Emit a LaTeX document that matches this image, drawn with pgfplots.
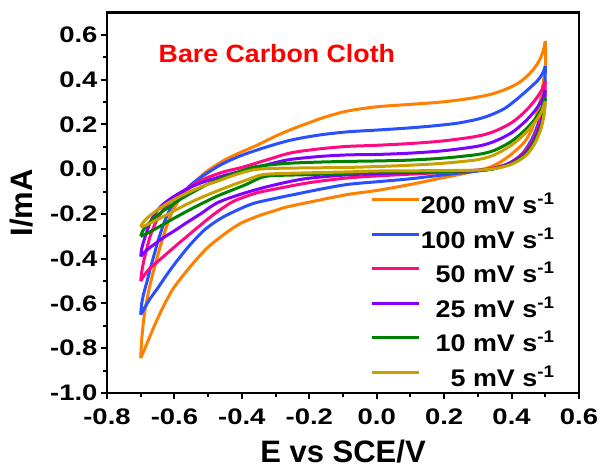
\documentclass[border=0pt]{standalone}
\usepackage{fontspec}
\setmainfont{Liberation Sans}
\newfontfamily\tickfont[FakeStretch=1.22]{Liberation Sans}
\newfontfamily\legfont[FakeStretch=1.12]{Liberation Sans}
\newfontfamily\titlefont[FakeStretch=1.07]{Liberation Sans}
\usepackage{pgfplots}
\pgfplotsset{compat=1.18}
\definecolor{cvorange}{HTML}{FF8000}
\definecolor{cvblue}{HTML}{2850FF}
\definecolor{cvpink}{HTML}{FF0A82}
\definecolor{cvpurple}{HTML}{8000FF}
\definecolor{cvgreen}{HTML}{008000}
\definecolor{cvgold}{HTML}{C8A000}

\begin{document}
\begin{tikzpicture}
\begin{axis}[
  name=ax,
  scale only axis, width=472pt, height=380.4pt,
  xmin=-0.8, xmax=0.6, ymin=-1.0, ymax=0.7,
  xtick={-0.8,-0.6,-0.4,-0.2,0,0.2,0.4,0.6},
  ytick={-1.0,-0.8,-0.6,-0.4,-0.2,0,0.2,0.4,0.6},
  minor x tick num=1, minor y tick num=1,
  xtick pos=left, ytick pos=left, tick align=outside,
  major tick length=6pt, minor tick length=3.5pt,
  every tick/.style={black, line width=2pt},
  axis line style={black, line width=2.8pt},
  /pgf/number format/.cd, fixed, fixed zerofill, precision=1, assume math mode=true,
  /pgfplots/.cd,
  ticklabel style={font=\tickfont\bfseries\fontsize{22.5}{26}\selectfont},
  xticklabel style={yshift=-6pt},
  xlabel={E vs SCE/V}, ylabel={I/mA},
  label style={font=\bfseries\fontsize{31}{36}\selectfont},
  xlabel style={at={(axis description cs:0.5,0)}, anchor=base, yshift=-69pt},
  ylabel style={at={(axis description cs:0,0.50)}, anchor=base, yshift=74pt},
  legend style={draw=none, fill=none, at={(rel axis cs:0.955,0.522)}, anchor=north east,
    font=\legfont\bfseries\fontsize{24}{28}\selectfont, row sep=12.5pt,
    nodes={inner sep=0pt, text height=17pt, text depth=5pt}},
  legend cell align=right,
  legend image code/.code={\draw[#1, line width=3.2pt] (0pt,8pt) -- (47pt,8pt);},
  every axis plot/.append style={line width=3pt, line join=round, smooth},
]
% 200 mV/s
\addplot[cvorange] coordinates {
(-0.700,-0.844) (-0.697,-0.76) (-0.690,-0.66) (-0.680,-0.57) (-0.668,-0.49) (-0.655,-0.415)
(-0.640,-0.335) (-0.622,-0.25) (-0.605,-0.185) (-0.585,-0.135) (-0.565,-0.10) (-0.54,-0.06)
(-0.513,-0.02) (-0.48,0.015) (-0.443,0.048) (-0.40,0.078) (-0.354,0.108) (-0.30,0.148)
(-0.245,0.183) (-0.20,0.208) (-0.156,0.232) (-0.087,0.260) (0.0,0.279) (0.10,0.290)
(0.19,0.300) (0.27,0.315) (0.339,0.335) (0.39,0.362) (0.428,0.393) (0.46,0.438)
(0.480,0.480) (0.493,0.525) (0.500,0.573)};
\addlegendentry{200 mV s\textsuperscript{-1}}
\addplot[cvorange, forget plot] coordinates {
(0.500,0.573) (0.501,0.47) (0.494,0.39) (0.487,0.32) (0.475,0.25) (0.462,0.185) (0.44,0.125)
(0.408,0.078) (0.37,0.035) (0.329,0.006) (0.25,-0.022) (0.19,-0.040) (0.10,-0.068)
(0.0,-0.095) (-0.087,-0.113) (-0.17,-0.138) (-0.265,-0.168) (-0.304,-0.186) (-0.35,-0.208)
(-0.404,-0.242) (-0.45,-0.288) (-0.503,-0.352) (-0.55,-0.430) (-0.602,-0.530) (-0.635,-0.620)
(-0.661,-0.705) (-0.683,-0.785) (-0.700,-0.844)};
% 100 mV/s
\addplot[cvblue] coordinates {
(-0.700,-0.650) (-0.697,-0.60) (-0.691,-0.555) (-0.681,-0.50) (-0.671,-0.44) (-0.658,-0.37)
(-0.646,-0.307) (-0.632,-0.245) (-0.617,-0.190) (-0.600,-0.148) (-0.582,-0.115) (-0.55,-0.068)
(-0.513,-0.027) (-0.46,0.022) (-0.404,0.060) (-0.33,0.098) (-0.255,0.130) (-0.17,0.153)
(-0.087,0.167) (0.0,0.175) (0.091,0.184) (0.17,0.194) (0.24,0.206) (0.30,0.224)
(0.339,0.243) (0.38,0.272) (0.418,0.316) (0.45,0.358) (0.477,0.396) (0.492,0.428) (0.500,0.461)};
\addlegendentry{100 mV s\textsuperscript{-1}}
\addplot[cvblue, forget plot] coordinates {
(0.500,0.461) (0.499,0.38) (0.493,0.30) (0.482,0.22) (0.462,0.14) (0.432,0.07) (0.392,0.025)
(0.345,0.002) (0.30,-0.008) (0.24,-0.018) (0.16,-0.032) (0.091,-0.044) (0.0,-0.056)
(-0.087,-0.068) (-0.17,-0.090) (-0.245,-0.113) (-0.30,-0.130) (-0.364,-0.152) (-0.41,-0.180)
(-0.463,-0.220) (-0.51,-0.270) (-0.552,-0.335) (-0.59,-0.405) (-0.622,-0.470) (-0.648,-0.528)
(-0.671,-0.576) (-0.688,-0.618) (-0.700,-0.650)};
% 50 mV/s
\addplot[cvpink] coordinates {
(-0.700,-0.500) (-0.697,-0.46) (-0.691,-0.41) (-0.681,-0.35) (-0.671,-0.295) (-0.657,-0.243)
(-0.642,-0.200) (-0.625,-0.165) (-0.607,-0.138) (-0.58,-0.105) (-0.54,-0.066) (-0.50,-0.036)
(-0.45,-0.010) (-0.40,0.008) (-0.33,0.040) (-0.255,0.073) (-0.17,0.091) (-0.087,0.102)
(0.0,0.107) (0.10,0.115) (0.20,0.127) (0.30,0.148) (0.35,0.170) (0.40,0.208)
(0.44,0.258) (0.47,0.310) (0.49,0.355) (0.500,0.394)};
\addlegendentry{50 mV s\textsuperscript{-1}}
\addplot[cvpink, forget plot] coordinates {
(0.500,0.394) (0.498,0.32) (0.490,0.25) (0.475,0.17) (0.455,0.11) (0.425,0.06) (0.39,0.025)
(0.34,0.003) (0.30,-0.005) (0.20,-0.014) (0.10,-0.022) (0.0,-0.030) (-0.087,-0.039)
(-0.20,-0.060) (-0.30,-0.088) (-0.354,-0.105) (-0.40,-0.128) (-0.433,-0.150) (-0.48,-0.198)
(-0.523,-0.250) (-0.565,-0.303) (-0.602,-0.350) (-0.64,-0.400) (-0.671,-0.440) (-0.690,-0.475)
(-0.700,-0.500)};
% 25 mV/s
\addplot[cvpurple] coordinates {
(-0.700,-0.390) (-0.697,-0.355) (-0.691,-0.322) (-0.681,-0.275) (-0.671,-0.235) (-0.655,-0.192)
(-0.636,-0.160) (-0.61,-0.130) (-0.58,-0.102) (-0.54,-0.072) (-0.50,-0.050) (-0.45,-0.027)
(-0.404,-0.010) (-0.35,0.010) (-0.30,0.030) (-0.255,0.044) (-0.17,0.057) (-0.087,0.064)
(0.0,0.066) (0.10,0.072) (0.20,0.083) (0.30,0.103) (0.35,0.125) (0.40,0.163)
(0.44,0.213) (0.47,0.263) (0.49,0.310) (0.500,0.352)};
\addlegendentry{25 mV s\textsuperscript{-1}}
\addplot[cvpurple, forget plot] coordinates {
(0.500,0.352) (0.497,0.28) (0.488,0.21) (0.470,0.14) (0.445,0.08) (0.41,0.040) (0.37,0.012)
(0.32,-0.002) (0.20,-0.010) (0.10,-0.015) (0.0,-0.020) (-0.087,-0.025) (-0.20,-0.040)
(-0.255,-0.054) (-0.33,-0.080) (-0.404,-0.112) (-0.473,-0.150) (-0.523,-0.200) (-0.565,-0.240)
(-0.602,-0.277) (-0.635,-0.308) (-0.661,-0.337) (-0.685,-0.365) (-0.700,-0.390)};
% 10 mV/s
\addplot[cvgreen] coordinates {
(-0.700,-0.300) (-0.696,-0.282) (-0.688,-0.262) (-0.672,-0.236) (-0.655,-0.212) (-0.635,-0.188)
(-0.61,-0.163) (-0.58,-0.132) (-0.54,-0.098) (-0.503,-0.068) (-0.46,-0.040) (-0.41,-0.012)
(-0.364,0.010) (-0.30,0.022) (-0.245,0.028) (-0.17,0.032) (-0.087,0.035) (0.0,0.037)
(0.10,0.041) (0.20,0.050) (0.30,0.066) (0.35,0.085) (0.40,0.125) (0.44,0.175)
(0.47,0.225) (0.49,0.275) (0.500,0.319)};
\addlegendentry{10 mV s\textsuperscript{-1}}
\addplot[cvgreen, forget plot] coordinates {
(0.500,0.319) (0.496,0.25) (0.485,0.18) (0.465,0.115) (0.44,0.065) (0.40,0.025) (0.35,0.003)
(0.30,-0.006) (0.20,-0.010) (0.10,-0.012) (0.0,-0.014) (-0.087,-0.018) (-0.20,-0.024)
(-0.30,-0.028) (-0.334,-0.033) (-0.36,-0.048) (-0.384,-0.066) (-0.42,-0.088) (-0.473,-0.120)
(-0.525,-0.158) (-0.572,-0.195) (-0.62,-0.235) (-0.651,-0.262) (-0.675,-0.282) (-0.700,-0.300)};
% 5 mV/s
\addplot[cvgold] coordinates {
(-0.700,-0.258) (-0.694,-0.240) (-0.681,-0.218) (-0.662,-0.195) (-0.642,-0.173) (-0.61,-0.143)
(-0.572,-0.113) (-0.52,-0.078) (-0.473,-0.054) (-0.42,-0.025) (-0.364,-0.002) (-0.30,0.004)
(-0.20,0.006) (-0.087,0.008) (0.0,0.012) (0.10,0.018) (0.20,0.027) (0.30,0.043)
(0.35,0.065) (0.40,0.108) (0.44,0.160) (0.47,0.212) (0.49,0.260) (0.500,0.304)};
\addlegendentry{5 mV s\textsuperscript{-1}}
\addplot[cvgold, forget plot] coordinates {
(0.500,0.304) (0.496,0.24) (0.485,0.17) (0.465,0.105) (0.44,0.058) (0.40,0.022) (0.35,0.003)
(0.30,-0.004) (0.20,-0.006) (0.10,-0.007) (0.0,-0.008) (-0.087,-0.012) (-0.20,-0.016)
(-0.30,-0.020) (-0.344,-0.026) (-0.38,-0.045) (-0.423,-0.068) (-0.473,-0.097) (-0.523,-0.128)
(-0.572,-0.163) (-0.622,-0.203) (-0.660,-0.232) (-0.681,-0.248) (-0.700,-0.258)};
\node[anchor=base west, text=red, font=\titlefont\bfseries\fontsize{25}{30}\selectfont]
  at (axis cs:-0.657,0.479) {Bare Carbon Cloth};
\end{axis}
\pgfresetboundingbox
\useasboundingbox ([xshift=-107pt,yshift=-75pt]ax.south west) rectangle ([xshift=22pt,yshift=12.6pt]ax.north east);
\end{tikzpicture}
\end{document}
